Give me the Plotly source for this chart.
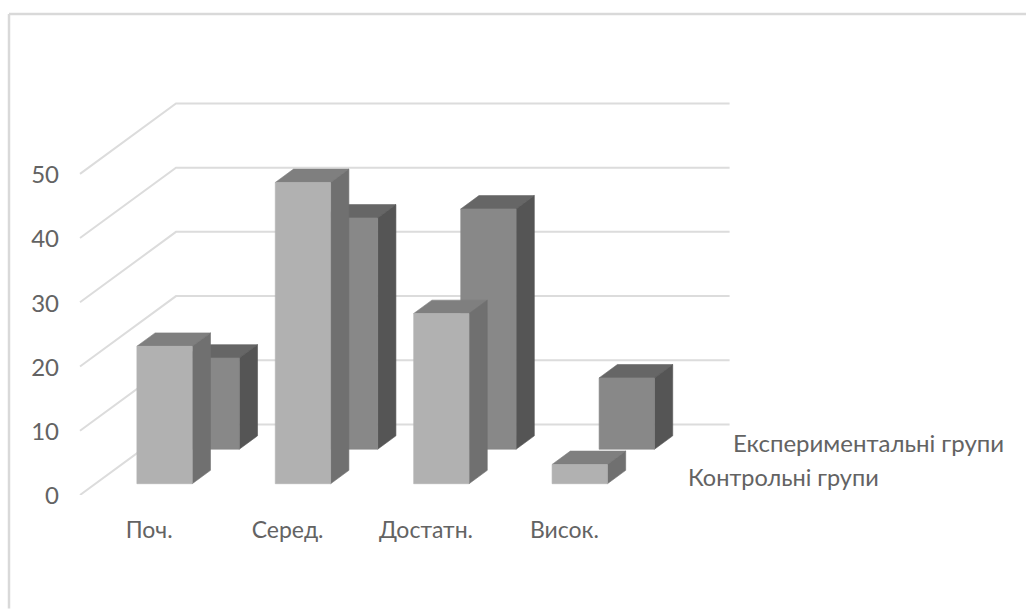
import plotly.graph_objects as go

# Survey data: share of students per achievement level
categories = ["Поч.", "Серед.", "Достатн.", "Висок."]
control_values = [21.4, 46.9, 26.5, 3]
experimental_values = [14.2, 36, 37.4, 11.1]
series_names = ["Контрольні групи", "Експериментальні групи"]
value_ticks = [0, 10, 20, 30, 40, 50]

# Page geometry
WIDTH, HEIGHT = 1026, 609
M_L, M_B = 66, 113.5
PX_PER_CAT = 138.4
PX_PER_VAL = 6.43
ORIGIN_X = 80

# Oblique projection of the floor depth (0 = front, 1 = back wall)
DEPTH_DX = 96 / PX_PER_CAT
DEPTH_DY = 70.5 / PX_PER_VAL
BAR_WIDTH = 0.4
BAR_DEPTH = 0.19
LABEL_SIZE = 24
TEXT_COLOR = "#636363"


def project(cat, value, depth):
    return cat + depth * DEPTH_DX, value + depth * DEPTH_DY


def polygon(points, color):
    xs, ys = zip(*[project(*p) for p in points])
    return go.Scatter(
        x=list(xs) + [xs[0]], y=list(ys) + [ys[0]], mode="lines",
        fill="toself", fillcolor=color, line=dict(color=color, width=0.6),
        hoverinfo="skip", showlegend=False,
    )


def bar(cat_index, value, depth_start, front, side, top):
    x0 = cat_index + (1 - BAR_WIDTH) / 2
    x1 = x0 + BAR_WIDTH
    z0, z1 = depth_start, depth_start + BAR_DEPTH
    return [
        polygon([(x0, value, z0), (x1, value, z0), (x1, value, z1), (x0, value, z1)], top),
        polygon([(x1, 0, z0), (x1, 0, z1), (x1, value, z1), (x1, value, z0)], side),
        polygon([(x0, 0, z0), (x1, 0, z0), (x1, value, z0), (x0, value, z0)], front),
    ]


fig = go.Figure()

# Side-wall and back-wall gridlines
n_cat = len(categories)
for v in value_ticks:
    pts = [project(0, v, 0), project(0, v, 1), project(n_cat, v, 1)]
    fig.add_trace(go.Scatter(
        x=[p[0] for p in pts], y=[p[1] for p in pts], mode="lines",
        line=dict(color="#dcdcdc", width=2), hoverinfo="skip", showlegend=False,
    ))

# Rear row first so the front row overlaps it
for i, v in enumerate(experimental_values):
    fig.add_traces(bar(i, v, 0.65, "#888888", "#555555", "#666666"))
for i, v in enumerate(control_values):
    fig.add_traces(bar(i, v, 0.16, "#b1b1b1", "#707070", "#7f7f7f"))

# Depth-axis labels sit beside the floor at each row's depth
annotations = []
for name, depth, shift, size in zip(series_names, (0.25, 0.75), (28, 25), (23.5, 24)):
    x, y = project(n_cat, 0, depth)
    annotations.append(dict(
        x=x, y=y, text=name, showarrow=False, xanchor="left", yanchor="middle",
        xshift=shift, font=dict(color=TEXT_COLOR, size=size),
    ))

# Chart-area border, open towards the page's right and bottom edges
plot_w = WIDTH - M_L
plot_h = HEIGHT - M_B
frame_x = (9 - M_L) / plot_w
frame_y = (HEIGHT - M_B - 14) / plot_h
border = dict(color="#d9d9d9", width=2.5)
shapes = [
    dict(type="line", xref="paper", yref="paper", x0=frame_x, x1=1, y0=frame_y, y1=frame_y, line=border),
    dict(type="line", xref="paper", yref="paper", x0=frame_x, x1=frame_x, y0=-M_B / plot_h, y1=frame_y, line=border),
]

fig.update_layout(
    width=WIDTH, height=HEIGHT,
    margin=dict(l=M_L, r=0, t=0, b=M_B, autoexpand=False),
    paper_bgcolor="white", plot_bgcolor="white",
    font=dict(family="Lato", color=TEXT_COLOR, size=LABEL_SIZE),
    annotations=annotations, shapes=shapes, showlegend=False,
    xaxis=dict(
        range=[(M_L - ORIGIN_X) / PX_PER_CAT, (WIDTH - ORIGIN_X) / PX_PER_CAT],
        tickvals=[i + 0.5 for i in range(n_cat)], ticktext=categories,
        tickfont=dict(size=23),
        showgrid=False, zeroline=False, showline=False, ticks="",
        ticklabelstandoff=19,
    ),
    yaxis=dict(
        range=[0, (HEIGHT - M_B) / PX_PER_VAL],
        tickvals=value_ticks, showgrid=False, zeroline=False, showline=False,
        ticks="", ticklabelshift=1, ticklabelstandoff=6,
    ),
)

fig.write_html("out.html")
